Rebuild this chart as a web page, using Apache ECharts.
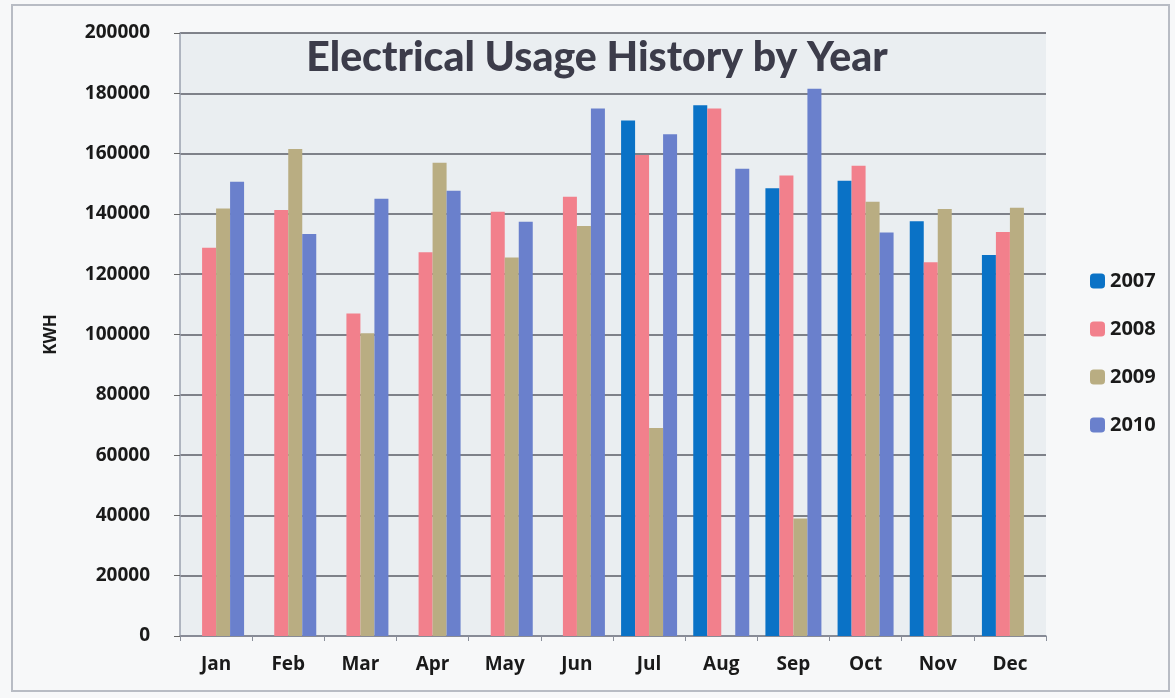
<!DOCTYPE html>
<html><head><meta charset="utf-8">
<script src="https://cdn.jsdelivr.net/npm/echarts@6/dist/echarts.min.js"></script>
<style>html,body{margin:0;padding:0;background:#f7f8f9;}#c{width:1175px;height:698px;}</style>
</head><body><div id="c"></div>
<script>
const months = ['Jan','Feb','Mar','Apr','May','Jun','Jul','Aug','Sep','Oct','Nov','Dec'];
const years = ['2007','2008','2009','2010'];
const y2007 = [null,null,null,null,null,null,171000,176000,148500,151000,137600,126400];
const y2008 = [128800,141300,107000,127300,140700,145700,159500,175000,152700,156000,124000,134000];
const y2009 = [141800,161500,100400,157000,125500,136000,69000,null,39000,144000,141600,142000];
const y2010 = [150700,133300,145000,147700,137400,175000,166400,155000,181500,133800,null,null];
const yTicks = {min:0, max:200000, interval:20000};
const colors = ['#0a72c6','#f2808c','#b9ad82','#6a80cc'];
const seriesData = [y2007,y2008,y2009,y2010];

const chart = echarts.init(document.getElementById('c'));
const font = '"Open Sans", Lato, sans-serif';
chart.setOption({
  backgroundColor:'#f7f8f9',
  animation:false,
  title:{text:'Electrical Usage History by Year', left:592, top:32, textAlign:'center',
    textStyle:{fontFamily:'Lato, sans-serif', fontSize:41, fontWeight:900, color:'#3c3c4a'}},
  graphic:[{type:'rect', shape:{x:12,y:5,width:1157,height:686}, style:{fill:'none', stroke:'#b8bcc4', lineWidth:2}, z:-1}],
  legend:{orient:'vertical', left:1085, top:266, itemWidth:15, itemHeight:15, itemGap:28,
    icon:'roundRect',
    textStyle:{fontFamily:font, fontSize:20, fontWeight:'bold', color:'#1a1a1a', lineHeight:19}},
  grid:{left:180, right:129, top:33, bottom:62, show:true, backgroundColor:'#eaeef1', borderWidth:0},
  xAxis:{type:'category', data:months,
    axisLine:{lineStyle:{color:'#8a8f9a', width:1.5}},
    axisTick:{show:true, length:5, lineStyle:{color:'#8a8f9a'}},
    axisLabel:{fontFamily:font, fontSize:19, fontWeight:'bold', color:'#1a1a1a', margin:19}},
  yAxis:{type:'value', min:yTicks.min, max:yTicks.max, interval:yTicks.interval,
    name:'KWH', nameLocation:'middle', nameGap:120, nameRotate:90,
    nameTextStyle:{fontFamily:font, fontSize:17, fontWeight:'bold', color:'#1a1a1a'},
    axisLine:{show:true, lineStyle:{color:'#9aa0ae', width:1.5}},
    axisTick:{show:true, length:6, lineStyle:{color:'#666'}},
    splitLine:{lineStyle:{color:'#5a5d66', width:1.5}},
    axisLabel:{fontFamily:font, fontSize:19, fontWeight:'bold', color:'#1a1a1a', margin:30,
      formatter:v=>String(v)}},
  series: years.map((y,i)=>({name:y, type:'bar', data:seriesData[i], barWidth:14, barGap:'0%',
    itemStyle:{color:colors[i]}}))
});
</script></body></html>
